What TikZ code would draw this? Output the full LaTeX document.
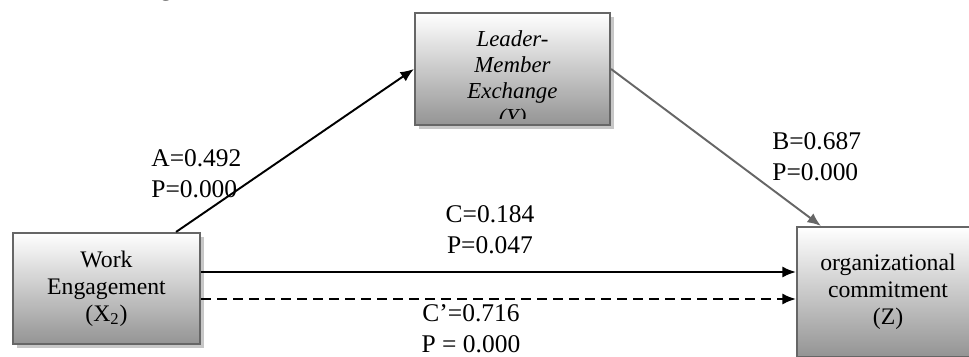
\documentclass[tikz,border=0pt]{standalone}
\usepackage{fontspec}
\setmainfont{Liberation Serif}
\usetikzlibrary{arrows.meta,shadows}

\tikzset{varbox/.style={
    	draw=black!60, line width=1.2pt,
    	top color=white, bottom color=black!42,
    	drop shadow={shadow xshift=0.07cm, shadow yshift=-0.07cm, fill=black!22, opacity=1},
    	align=center, inner sep=0pt,
    	font=\fontsize{13.5}{15.3}\selectfont
  	},
  	coef/.style={
    	align=left, inner sep=0pt,
    	font=\fontsize{14.5}{17.5}\selectfont
  	}
}

\begin{document}
\begin{tikzpicture}[>={Latex[length=0.27cm,width=0.22cm]}]
		\useasboundingbox (0,0) rectangle (19.38,7.12);
		% line of the text above, cut off by the page
		\node[coef, anchor=base east] (topline) at (6.44,7.21) {ment through LMX below.};

		\node[varbox, minimum width=3.74cm, minimum height=2.22cm] (we) at (2.13,1.35) {Work\\Engagement\\(X\textsubscript{2})};
		\node[varbox, minimum width=3.64cm, minimum height=2.6cm] (oc) at (17.76,1.28) {organizational\\commitment\\(Z)};
		\node[varbox, minimum width=3.9cm, minimum height=2.24cm] (lmx) at (10.25,5.74) {};
		% the text of this box runs out of it and is cut
		\begin{scope}
			\clip ([shift={(0.05,0.15)}]lmx.south west) rectangle (lmx.north east);
			\node[align=center, inner sep=0pt, anchor=north, font=\fontsize{13}{14.7}\selectfont\itshape] (lmxtext) at ([yshift=-0.37cm]lmx.north) {Leader-\\Member\\Exchange\\(Y)};
		\end{scope}

		\draw [black, line width=1.1pt, ->] ([xshift=-0.5cm]we.north east) -- (lmx.west);
		\draw [black!60, line width=1.1pt, ->] (lmx.east) -- ([xshift=0.5cm]oc.north west);
		\draw [black, line width=1.1pt, ->] ([yshift=0.33cm]we.east) -- ([yshift=0.33cm]we.east -| oc.west);
		\draw [black, line width=1.1pt, dash pattern=on 0.2cm off 0.12cm, ->] ([yshift=-0.21cm]we.east) -- ([yshift=-0.21cm]we.east -| oc.west);

		\node[coef, anchor=west] (lblA) at (3.02,3.64) {A=0.492\\P=0.000};
		\node[coef, anchor=west] (lblB) at (15.44,3.98) {B=0.687\\P=0.000};
		\node[coef, align=center] (lblC) at (9.8,2.53) {C=0.184\\P=0.047};
		\node[coef, align=center] (lblCp) at (9.42,0.55) {C’=0.716\\P = 0.000};
	\end{tikzpicture}
\end{document}
